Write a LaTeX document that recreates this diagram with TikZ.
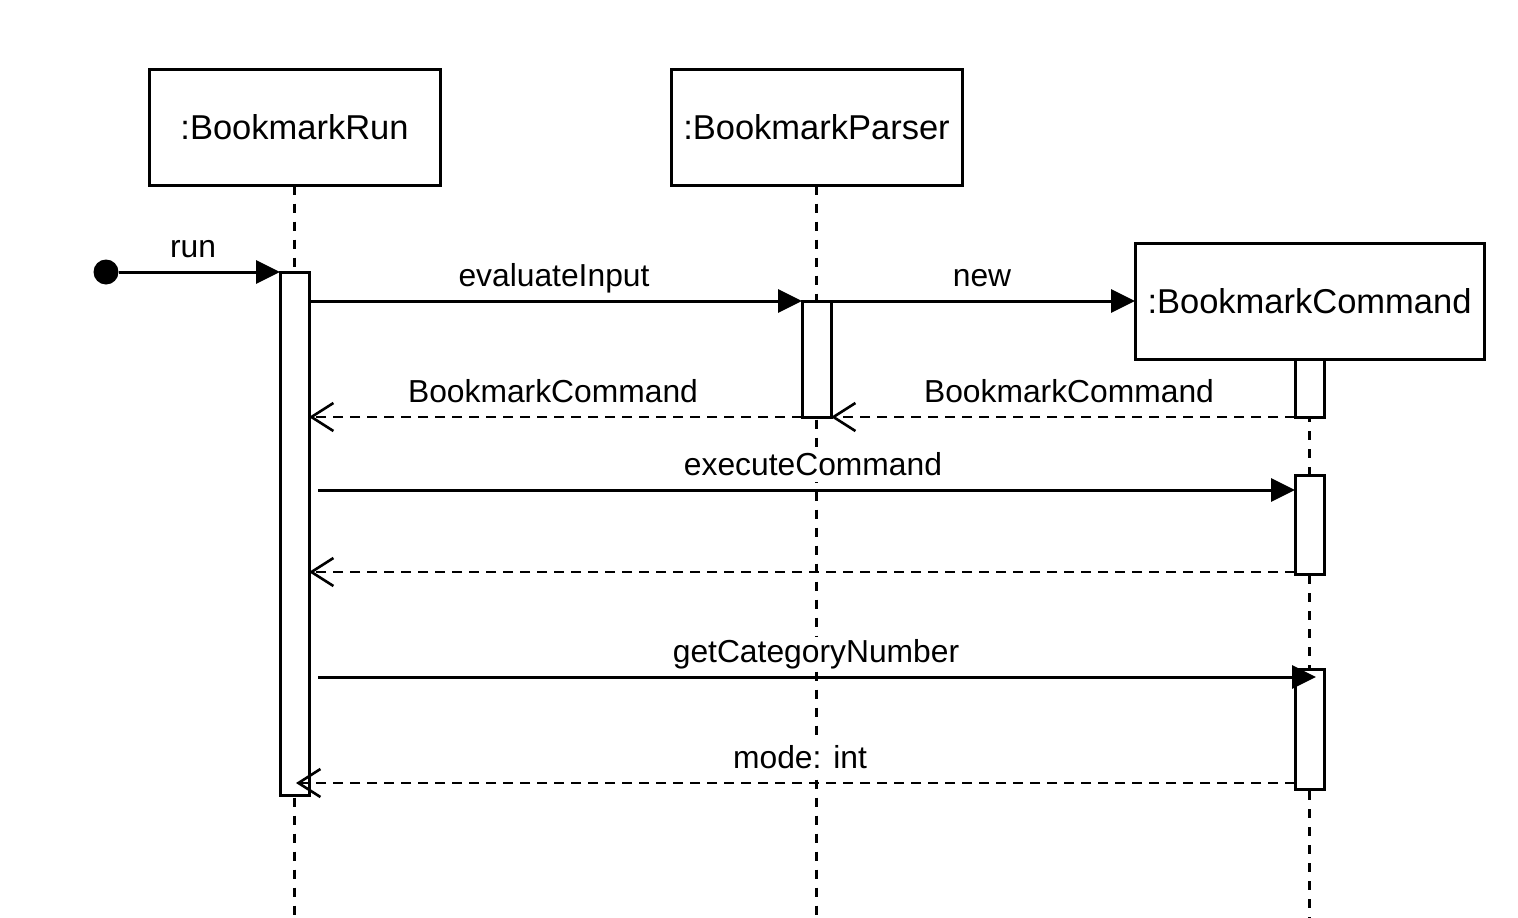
\documentclass[tikz,border=0pt]{standalone}
\usepackage{fontspec}
\setmainfont{Liberation Sans}
\usetikzlibrary{arrows.meta}
\begin{document}
\begin{tikzpicture}[x=1pt,y=-1pt,line width=3pt,
  obj/.style={draw,fill=white,minimum width=291pt,minimum height=116pt,inner sep=0pt,outer sep=0pt,
    text height=24pt,text depth=0pt,font=\fontsize{34.5}{40}\selectfont},
  act/.style={draw,fill=white,minimum width=29pt,inner sep=0pt,outer sep=0pt},
  life/.style={line width=2.6pt,dash pattern=on 9pt off 9pt},
  msg/.style={-{Triangle[length=24pt,width=23pt]}},
  ret/.style={line width=2.6pt,dash pattern=on 10pt off 7pt,-{Straight Barb[length=22pt,width=28pt,line width=2.6pt]}},
  lbl/.style={anchor=base,inner sep=1pt,fill=white,text height=24pt,text depth=6pt,font=\fontsize{31.8}{38}\selectfont},
  startdot/.style={circle,fill=black,minimum size=25pt,inner sep=0pt,outer sep=0pt}]
\useasboundingbox (0,0) rectangle (1518,918);
% objects
\node[obj] (run) at (294.5,127.5) {:BookmarkRun};
\node[obj] (par) at (816.5,127.5) {:BookmarkParser};
\node[obj,minimum width=349pt] (cmd) at (1309.5,301) {:BookmarkCommand};
\coordinate (e1) at (294.5,918);
\coordinate (e2) at (816.5,918);
\coordinate (e3) at (1309.5,918);
\draw[life] (run.south) -- (e1);
\draw[life] (par.south) -- (e2);
\draw[life] (cmd.south) -- (e3);
% activations
\node[act,minimum height=523pt] (a1) at (294.5,533.5) {};
\node[act,minimum height=116pt] (a2) at (816.5,359) {};
\node[act,minimum height=58pt] (a3) at (1309.5,388) {};
\node[act,minimum height=99pt] (a4) at (1309.5,524.5) {};
\node[act,minimum height=120pt] (a5) at (1309.5,729) {};
% levels
\coordinate (y301) at (0,301);
\coordinate (y490) at (0,490);
\coordinate (y572) at (0,572);
\coordinate (y677) at (0,677);
\coordinate (y783) at (0,783);
\coordinate (s1) at (318,490);
\coordinate (s2) at (318,677);
\coordinate (t2) at (1316,677);
\coordinate (t3) at (296,783);
% messages
\node[startdot] (start) at (106,272) {};
\draw[msg] (start) -- (a1.north west);
\node[lbl] (lrun) at (193,257) {run};
\draw[msg] (a1.east |- y301) -- (a2.north west);
\node[lbl] (leval) at (554,286) {evaluateInput};
\draw[msg] (a2.north east) -- (cmd.west);
\node[lbl] (lnew) at (982,286) {new};
\draw[ret] (a3.south west) -- (a2.south east);
\node[lbl] (lret1) at (1069,402) {BookmarkCommand};
\draw[ret] (a2.south west) -- (a1.east |- a2.south);
\node[lbl] (lret2) at (553,402) {BookmarkCommand};
\draw[msg] (s1) -- (a4.west |- y490);
\node[lbl] (lexec) at (813,475) {executeCommand};
\draw[ret] (a4.west |- y572) -- (a1.east |- y572);
\draw[msg] (s2) -- (t2);
\node[lbl] (lget) at (816,662) {getCategoryNumber};
\draw[ret] (a5.west |- y783) -- (t3);
\node[lbl] (lmode) at (800,768) {mode: int};
\end{tikzpicture}
\end{document}
